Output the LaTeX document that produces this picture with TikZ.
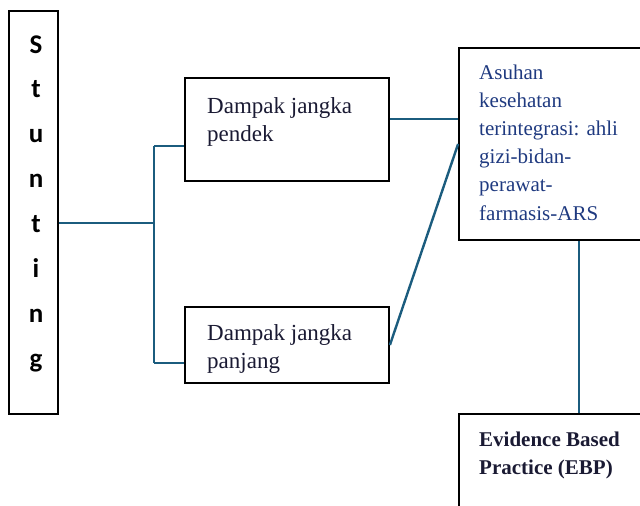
\documentclass[tikz,border=0pt]{standalone}
\usepackage{fontspec}
\setmainfont{Liberation Serif}
\newfontfamily\carlito{Carlito}
\definecolor{linkblue}{HTML}{1B5C7E}
\definecolor{navytext}{HTML}{1F3A80}
\definecolor{darktext}{HTML}{1A1A33}
\tikzset{
  boxnode/.style={draw=black,line width=1.8pt,rectangle,inner sep=0pt},
  link/.style={draw=linkblue,line width=2.4pt},
  bodytext/.style={anchor=base west,align=left,inner sep=0pt,text=darktext,font=\fontsize{23}{28.5}\selectfont},
}
\begin{document}
\begin{tikzpicture}[x=1pt,y=-1pt]
\useasboundingbox (0,0) rectangle (640,506);
\clip (0,0) rectangle (640,506);
% boxes
\node[boxnode,minimum width=49pt,minimum height=403pt] (stunting) at (33.5,212.5) {};
\node[anchor=base,align=center,inner sep=0pt,font=\carlito\bfseries\fontsize{27}{44.9}\selectfont] (stext) at (36,367.3) {S\\t\\u\\n\\t\\i\\n\\g};
\node[boxnode,minimum width=204pt,minimum height=103pt] (pendek) at (287,129.5) {};
\node[bodytext] (pendektext) at (207,141.5) {Dampak jangka\\pendek};
\node[boxnode,minimum width=204pt,minimum height=76pt] (panjang) at (287,345) {};
\node[bodytext] (panjangtext) at (207,368.5) {Dampak jangka\\panjang};
\node[boxnode,minimum width=230pt,minimum height=192pt] (asuhan) at (574,144) {};
\node[anchor=base west,align=left,inner sep=0pt,text=navytext,font=\fontsize{21}{28.2}\selectfont] (asuhantext) at (479,220) {Asuhan\\kesehatan\\terintegrasi: ahli\\gizi-bidan-\\perawat-\\farmasis-ARS};
\node[boxnode,minimum width=230pt,minimum height=150pt] (ebp) at (574,489) {};
\node[anchor=base west,align=left,inner sep=0pt,text=darktext,font=\bfseries\fontsize{21}{28}\selectfont] (ebptext) at (479,474) {Evidence Based\\Practice (EBP)};
% connectors
\coordinate (jtop) at (154,146);
\coordinate (jbot) at (154,363);
\coordinate (jmid) at (154,223);
\draw[link] (stunting.east |- jmid) -- (jmid);
\draw[link] (jtop) -- (jbot);
\draw[link] (jtop) -- (pendek.west |- jtop);
\draw[link] (jbot) -- (panjang.west |- jbot);
\draw[link] (pendek.east |- 0,119) -- (asuhan.west |- 0,119);
\draw[link] (panjang.east |- 0,345) -- (asuhan.west |- 0,144);
\draw[link] (asuhan.south -| 579,0) -- (ebp.north -| 579,0);
\end{tikzpicture}
\end{document}
